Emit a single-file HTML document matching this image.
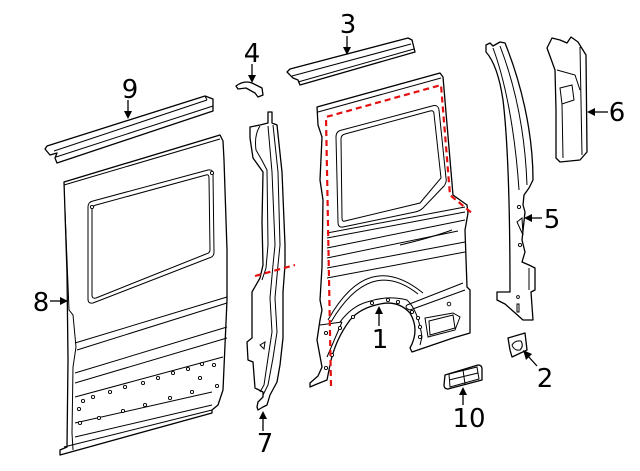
<!DOCTYPE html>
<html><head><meta charset="utf-8"><style>
html,body{margin:0;padding:0;background:#fff;}
svg{display:block;}
text{font-family:"DejaVu Sans","Liberation Sans",sans-serif;font-size:26px;fill:#000;}
.p{fill:#fff;stroke:#000;stroke-width:1.3;stroke-linejoin:round;}
.l{fill:none;stroke:#000;stroke-width:1;}
.h{fill:#fff;stroke:#000;stroke-width:0.9;}
.r{fill:none;stroke:#e41010;stroke-width:2.2;stroke-dasharray:6,4;}
.a{fill:none;stroke:#000;stroke-width:1.3;}
</style></head><body>
<svg width="640" height="471" viewBox="0 0 640 471">
<!-- Part 9 rail -->
<path class="p" d="M45,149 L47,146 L205,96 L213,99 L213,111 L57,163 L55,158 L57,153 L50,155 Z"/>
<path class="l" d="M54,151 L207,100 M56,157 L213,106 M205,96 L207,100"/>

<!-- Part 8 panel -->
<path class="p" d="M64,182 L220,135 L223,141 L224,160 L227,250 L227,300 L223,390 L218,405 L212,410 L212,413 L60,455 L60,450 L67,447 L68,360 L67,273 Z"/>
<path class="l" d="M65,210 L69,310 L73,315 L76,347 L73,367 L72,433 L73,450"/>
<path class="l" d="M64,185 L220,139"/>
<path class="l" d="M88,207 Q88,202 93,201 L208,170 Q213,169 213,174 L214,252 Q214,257 209,258 L93,303 Q88,304 88,299 Z"/>
<path class="l" d="M92,210 Q92,206 96,205 L206,175 Q209,174 209,178 L210,250 Q210,253 206,254 L96,298 Q92,299 92,295 Z"/>
<circle class="h" cx="92" cy="207" r="1.6"/><circle class="h" cx="212" cy="173" r="1.6"/>
<path class="l" d="M75,343 L227,297 M77,350 L227,303 M75,373 L227,327 M75,383 L227,338 M75,397 L223,357 M75,423 L212,392 M75,437 L212,405 M64,447 L212,410"/>
<g class="h">
<circle cx="93" cy="397" r="1.6"/><circle cx="83" cy="401" r="1.6"/><circle cx="110" cy="392" r="1.6"/><circle cx="125" cy="387" r="1.6"/><circle cx="143" cy="383" r="1.6"/><circle cx="158" cy="378" r="1.6"/><circle cx="173" cy="373" r="1.6"/><circle cx="188" cy="369" r="1.6"/><circle cx="202" cy="364" r="1.6"/><circle cx="214" cy="365" r="1.6"/><circle cx="200" cy="378" r="1.6"/><circle cx="217" cy="386" r="1.6"/><circle cx="192" cy="392" r="1.6"/><circle cx="170" cy="398" r="1.6"/><circle cx="145" cy="405" r="1.6"/><circle cx="123" cy="411" r="1.6"/><circle cx="99" cy="418" r="1.6"/><circle cx="79" cy="409" r="1.6"/><circle cx="80" cy="423" r="1.6"/>
</g>

<!-- Part 4 -->
<path class="p" d="M236,86 Q244,80 252,83 L262,88 L263,95 L258,97 L255,93 L246,88 L238,89 Z"/>

<!-- Part 3 rail -->
<path class="p" d="M287,72 L290,69 L408,38 L412,40 L415,52 L300,85 L298,80 L293,78 Z"/>
<path class="l" d="M292,76 L411,44 M298,82 L414,49"/>

<!-- Part 7 pillar -->
<path class="p" d="M268,112 L272,112 L272,123 L277,125 L282,172 L285,245 L285,265 L283,292 L283,338 L280,365 L277,382 L270,395 L267,405 L263,407 L258,410 L257,407 L258,402 L263,397 L263,392 L255,388 L253,362 L248,360 L247,342 L252,338 L252,292 L260,278 L263,265 L262,222 L263,172 L253,158 L250,138 L250,127 L260,125 L268,123 Z"/>
<path class="l" d="M273,125 L278,172 L280,245 L278,265 L275,298 L277,332 L273,358 L268,385 L263,395"/>
<path class="l" d="M268,126 L272,172 L275,245 L273,265 L270,298 L272,332 L268,358 L264,385 L260,392"/>
<path class="l" d="M260,126 Q254,135 256,150 Q262,160 267,170 L268,245 L266,268 L262,280"/>
<path class="l" d="M260,345 L265,342 L264,349 Z"/>

<!-- Part 1 quarter panel -->
<path class="p" d="M317,107 L440,73 L443,77 L453,195 L467,205 L468,213 L465,230 L467,287 L470,290 L470,333 L453,338 L412,352 L410,348 Q420,330 410,313 Q398,300 380,304 Q360,308 350,320 Q335,340 330,365 L327,380 L317,384 L310,387 L310,383 L318,376 L322,367 L317,340 L320,320 L322,310 L320,300 L322,267 L323,200 L320,180 L322,137 L318,125 Z"/>
<path class="l" d="M318,112 L441,78"/>
<path class="l" d="M336,137 Q336,131 342,130 L432,106 Q438,104 439,110 L446,178 Q447,182 444,186 L423,208 Q420,211 415,212 L343,227 Q338,228 338,222 Z"/>
<path class="l" d="M341,139 Q341,135 345,134 L430,111 Q434,110 434,114 L441,178 L420,203 L345,221 Q342,222 342,218 Z"/>
<path class="l" d="M327,233 L465,207 M327,238 L465,212 M327,248 L465,220 M327,258 L458,231 M327,268 L465,242 M327,278 L465,252"/>
<path class="l" d="M400,245 Q430,238 452,230"/>
<path class="l" d="M328,320 Q368,248 423,293"/>
<path class="l" d="M331,322 Q370,256 418,294"/>
<path class="l" d="M340,322 Q352,306 367,302 Q387,295 407,300 Q418,310 422,337 L420,345"/>
<path class="l" d="M407,305 L463,283 M410,310 L465,290 M407,305 Q404,308 410,310"/>
<path class="l" d="M425,318 L428,337 L455,330 L460,317 L453,313 Z"/>
<path class="l" d="M429,321 L453,315 L455,328 L430,335 Z"/>
<path class="l" d="M320,325 L342,322 M342,322 L327,357"/>
<g class="h">
<circle cx="372" cy="303" r="1.6"/><circle cx="388" cy="300" r="1.6"/><circle cx="398" cy="302" r="1.6"/><circle cx="412" cy="312" r="1.6"/><circle cx="418" cy="318" r="1.6"/><circle cx="420" cy="327" r="1.6"/><circle cx="420" cy="337" r="1.6"/><circle cx="353" cy="317" r="1.6"/><circle cx="340" cy="328" r="1.6"/><circle cx="332" cy="355" r="1.6"/><circle cx="326" cy="368" r="1.6"/><circle cx="326" cy="333" r="1.6"/><circle cx="449" cy="304" r="1.8"/>
</g>

<!-- Red dashed lines -->
<path class="r" d="M331,386 L326,117 L441,85 L450,195 L473,214"/>
<path class="r" d="M255,276 L295,265"/>

<!-- Part 5 pillar -->
<path class="p" d="M486,48 L486,45 L490,43 L493,46 L500,42 L505,43 C520,80 533,130 533,180 L529,188 L524,195 L523,205 L525,212 L522,240 L525,252 L522,262 L529,265 L535,268 L535,290 L531,292 L533,320 L523,320 L505,304 L497,300 L497,292 L510,292 C510,230 509,150 503,100 C500,80 495,62 486,52 Z"/>
<path class="l" d="M500,46 C515,85 525,130 527,185 M493,48 C505,80 515,130 519,190"/>
<path class="l" d="M529,268 L529,290"/>
<g class="h"><circle cx="519" cy="207" r="1.6"/><circle cx="520" cy="245" r="1.6"/><circle cx="518" cy="297" r="1.4"/></g>
<path class="l" d="M517,222 L522,218 L523,235 Z M517,304 L517,312 L519,312 L519,304 Z"/>

<!-- Part 6 -->
<path class="p" d="M547,48 L552,38 L560,40 L567,43 L571,37 L578,42 L586,55 L587,152 L580,160 L560,162 L556,158 L556,110 L555,70 Z"/>
<path class="l" d="M580,47 L582,155 M557,70 L575,75 L580,90 M560,88 L572,85 L574,100 L562,104 Z M562,104 L563,158"/>

<!-- Part 2 -->
<path class="p" d="M508,338 L525,333 L527,350 L512,357 L510,350 Z"/>
<path class="l" d="M512,345 Q515,340 521,341 Q524,346 520,350 Q514,351 512,345 Z"/>

<!-- Part 10 -->
<path class="p" d="M445,375 L478,365 Q482,365 482,369 L482,380 L448,389 Q444,389 444,385 Z"/>
<path class="l" d="M449,374 L477,367 L479,379 L450,387 Z M449,380 L478,373 M463,370 L465,384"/>

<!-- Labels & arrows -->
<text x="130" y="98" text-anchor="middle">9</text>
<path class="a" d="M128,100 L128,112"/><path d="M124,111 L132,111 L128,119 Z"/>
<text x="252" y="62" text-anchor="middle">4</text>
<path class="a" d="M252,64 L252,76"/><path d="M248,75 L256,75 L252,83 Z"/>
<text x="348" y="33" text-anchor="middle">3</text>
<path class="a" d="M347,36 L347,48"/><path d="M343,47 L351,47 L347,55 Z"/>
<text x="617" y="121" text-anchor="middle">6</text>
<path class="a" d="M608,112 L594,112"/><path d="M595,108 L595,116 L587,112 Z"/>
<text x="552" y="228" text-anchor="middle">5</text>
<path class="a" d="M542,218 L531,218"/><path d="M532,214 L532,222 L524,218 Z"/>
<text x="41" y="311" text-anchor="middle">8</text>
<path class="a" d="M50,301 L61,301"/><path d="M60,297 L60,305 L68,301 Z"/>
<text x="380" y="348" text-anchor="middle">1</text>
<path class="a" d="M379,326 L379,313"/><path d="M375,314 L383,314 L379,306 Z"/>
<text x="545" y="387" text-anchor="middle">2</text>
<path class="a" d="M537,366 L528,356"/><path d="M526,360 L532,354 L523,350 Z"/>
<text x="469" y="427" text-anchor="middle">10</text>
<path class="a" d="M463,405 L463,394"/><path d="M459,395 L467,395 L463,387 Z"/>
<text x="265" y="452" text-anchor="middle">7</text>
<path class="a" d="M263,431 L263,418"/><path d="M259,419 L267,419 L263,411 Z"/>
</svg>
</body></html>
